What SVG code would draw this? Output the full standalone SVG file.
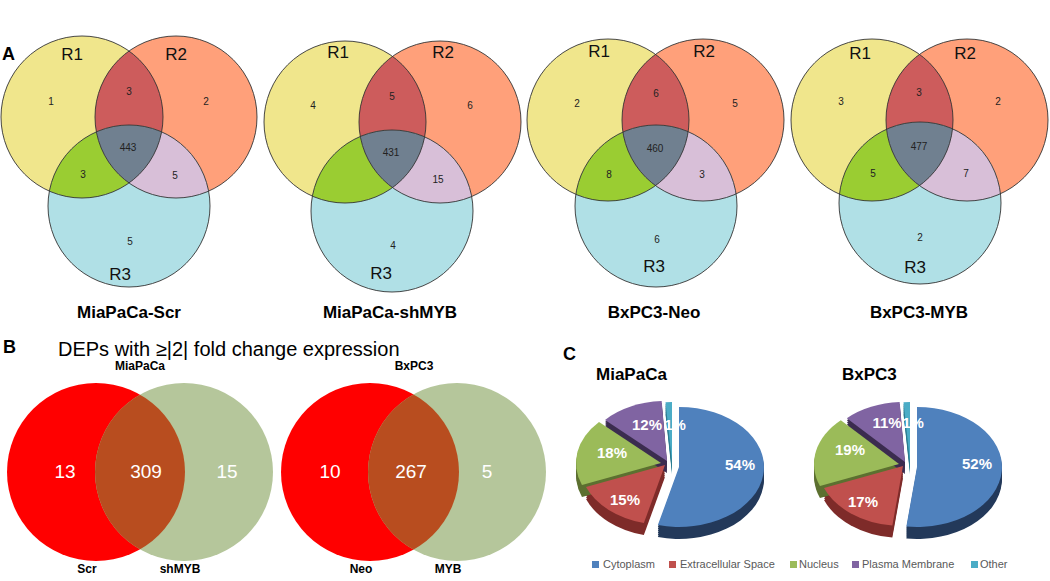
<svg xmlns="http://www.w3.org/2000/svg" xmlns:xlink="http://www.w3.org/1999/xlink" width="1050" height="581" viewBox="0 0 1050 581">
<style>
.lbl{font-family:"Liberation Sans",Arial,sans-serif;font-weight:bold;fill:#000}
.rl{font-family:"Liberation Sans",Arial,sans-serif;font-size:17px;fill:#111;text-anchor:middle}
.num{font-family:"Liberation Sans",Arial,sans-serif;font-size:10px;fill:#222;text-anchor:middle}
.ttl{font-family:"Liberation Sans",Arial,sans-serif;font-size:17px;font-weight:bold;fill:#000;text-anchor:middle}
.r1{fill:#F0E68C}.r2{fill:#FFA07A}.r3{fill:#B0E0E6}
.r12{fill:#CD5C5C}.r13{fill:#9ACD32}.r23{fill:#D8BFD8}.r123{fill:#708090}
.ol{fill:none;stroke:#333;stroke-width:0.9}
.bn{font-family:"Liberation Sans",Arial,sans-serif;font-size:19px;fill:#fff;text-anchor:middle}
.bl{font-family:"Liberation Sans",Arial,sans-serif;font-size:12px;font-weight:bold;fill:#000;text-anchor:middle}
.pct{font-family:"Liberation Sans",Arial,sans-serif;font-size:15px;font-weight:bold;fill:#fff;text-anchor:middle}
.lg{font-family:"Liberation Sans",Arial,sans-serif;font-size:11px;fill:#595959}
</style>
<defs>
<clipPath id="c1a"><circle cx="82" cy="117" r="81"/></clipPath>
<clipPath id="c1b"><circle cx="176" cy="117" r="81"/></clipPath>
<clipPath id="c2a"><circle cx="345" cy="122" r="81"/></clipPath>
<clipPath id="c2b"><circle cx="440" cy="122" r="81"/></clipPath>
<clipPath id="c3a"><circle cx="608" cy="120" r="81"/></clipPath>
<clipPath id="c3b"><circle cx="703" cy="120" r="81"/></clipPath>
<clipPath id="c4a"><circle cx="872" cy="120" r="81"/></clipPath>
<clipPath id="c4b"><circle cx="967" cy="120" r="81"/></clipPath>
<clipPath id="cbl"><circle cx="96" cy="472" r="89"/></clipPath>
<clipPath id="cbr"><circle cx="370" cy="472" r="89"/></clipPath>
<path id="p1b" d="M679,467 L679,407 A85,60 0 1 1 657.86,525.12 Z"/>
<path id="p1r" d="M665,465 L643.86,523.12 A85,60 0 0 1 585.97,487.09 Z"/>
<path id="p1g" d="M661,463 L581.97,485.09 A85,60 0 0 1 599.03,421.93 Z"/>
<path id="p1p" d="M667,461 L605.03,419.93 A85,60 0 0 1 661.66,401.12 Z"/>
<path id="p1c" d="M672,462 L665.5,402.2 A85,60 0 0 1 672,402 Z"/>
<path id="p2b" d="M917,467 L917,407 A85,60 0 1 1 906.35,526.53 Z"/>
<path id="p2r" d="M903,466 L892.35,525.53 A85,60 0 0 1 823.97,488.09 Z"/>
<path id="p2g" d="M899,464 L819.97,486.09 A85,60 0 0 1 840.82,420.26 Z"/>
<path id="p2p" d="M905,462 L846.82,418.26 A85,60 0 0 1 899.66,402.12 Z"/>
<path id="p2c" d="M910,462 L903.5,402.2 A85,60 0 0 1 910,402 Z"/>
</defs>
<rect width="1050" height="581" fill="#fff"/>

<text class="lbl" x="2" y="60" font-size="18">A</text>

<g id="venn-miapaca-scr">
<circle class="r1" cx="82" cy="117" r="81"/>
<circle class="r2" cx="176" cy="117" r="81"/>
<circle class="r3" cx="129" cy="206" r="81"/>
<circle class="r12" cx="176" cy="117" r="81" clip-path="url(#c1a)"/>
<circle class="r13" cx="129" cy="206" r="81" clip-path="url(#c1a)"/>
<circle class="r23" cx="129" cy="206" r="81" clip-path="url(#c1b)"/>
<g clip-path="url(#c1a)"><circle class="r123" cx="129" cy="206" r="81" clip-path="url(#c1b)"/></g>
<circle class="ol" cx="82" cy="117" r="81"/>
<circle class="ol" cx="176" cy="117" r="81"/>
<circle class="ol" cx="129" cy="206" r="81"/>
<text class="rl" x="72" y="60">R1</text>
<text class="rl" x="176" y="60">R2</text>
<text class="rl" x="120" y="280">R3</text>
<text class="num" x="51" y="105">1</text>
<text class="num" x="129" y="95">3</text>
<text class="num" x="206" y="105">2</text>
<text class="num" x="128" y="151">443</text>
<text class="num" x="83" y="178">3</text>
<text class="num" x="175" y="179">5</text>
<text class="num" x="130" y="245">5</text>
<text class="ttl" x="129" y="318">MiaPaCa-Scr</text>
</g>

<g id="venn-miapaca-shmyb">
<circle class="r1" cx="345" cy="122" r="81"/>
<circle class="r2" cx="440" cy="122" r="81"/>
<circle class="r3" cx="392" cy="211" r="81"/>
<circle class="r12" cx="440" cy="122" r="81" clip-path="url(#c2a)"/>
<circle class="r13" cx="392" cy="211" r="81" clip-path="url(#c2a)"/>
<circle class="r23" cx="392" cy="211" r="81" clip-path="url(#c2b)"/>
<g clip-path="url(#c2a)"><circle class="r123" cx="392" cy="211" r="81" clip-path="url(#c2b)"/></g>
<circle class="ol" cx="345" cy="122" r="81"/>
<circle class="ol" cx="440" cy="122" r="81"/>
<circle class="ol" cx="392" cy="211" r="81"/>
<text class="rl" x="338" y="58">R1</text>
<text class="rl" x="443" y="58">R2</text>
<text class="rl" x="381" y="279">R3</text>
<text class="num" x="313" y="109">4</text>
<text class="num" x="392" y="100">5</text>
<text class="num" x="470" y="109">6</text>
<text class="num" x="391" y="156">431</text>
<text class="num" x="438" y="183">15</text>
<text class="num" x="393" y="249">4</text>
<text class="ttl" x="390" y="318">MiaPaCa-shMYB</text>
</g>

<g id="venn-bxpc3-neo">
<circle class="r1" cx="608" cy="120" r="81"/>
<circle class="r2" cx="703" cy="120" r="81"/>
<circle class="r3" cx="656" cy="206" r="81"/>
<circle class="r12" cx="703" cy="120" r="81" clip-path="url(#c3a)"/>
<circle class="r13" cx="656" cy="206" r="81" clip-path="url(#c3a)"/>
<circle class="r23" cx="656" cy="206" r="81" clip-path="url(#c3b)"/>
<g clip-path="url(#c3a)"><circle class="r123" cx="656" cy="206" r="81" clip-path="url(#c3b)"/></g>
<circle class="ol" cx="608" cy="120" r="81"/>
<circle class="ol" cx="703" cy="120" r="81"/>
<circle class="ol" cx="656" cy="206" r="81"/>
<text class="rl" x="599" y="57">R1</text>
<text class="rl" x="704" y="57">R2</text>
<text class="rl" x="654" y="272">R3</text>
<text class="num" x="577" y="107">2</text>
<text class="num" x="656" y="97">6</text>
<text class="num" x="735" y="107">5</text>
<text class="num" x="655" y="152">460</text>
<text class="num" x="609" y="178">8</text>
<text class="num" x="702" y="178">3</text>
<text class="num" x="657" y="243">6</text>
<text class="ttl" x="654" y="318">BxPC3-Neo</text>
</g>

<g id="venn-bxpc3-myb">
<circle class="r1" cx="872" cy="120" r="81"/>
<circle class="r2" cx="967" cy="120" r="81"/>
<circle class="r3" cx="920" cy="203" r="81"/>
<circle class="r12" cx="967" cy="120" r="81" clip-path="url(#c4a)"/>
<circle class="r13" cx="920" cy="203" r="81" clip-path="url(#c4a)"/>
<circle class="r23" cx="920" cy="203" r="81" clip-path="url(#c4b)"/>
<g clip-path="url(#c4a)"><circle class="r123" cx="920" cy="203" r="81" clip-path="url(#c4b)"/></g>
<circle class="ol" cx="872" cy="120" r="81"/>
<circle class="ol" cx="967" cy="120" r="81"/>
<circle class="ol" cx="920" cy="203" r="81"/>
<text class="rl" x="860" y="59">R1</text>
<text class="rl" x="965" y="59">R2</text>
<text class="rl" x="915" y="273">R3</text>
<text class="num" x="841" y="105">3</text>
<text class="num" x="919" y="96">3</text>
<text class="num" x="998" y="105">2</text>
<text class="num" x="919" y="150">477</text>
<text class="num" x="873" y="177">5</text>
<text class="num" x="966" y="177">7</text>
<text class="num" x="920" y="241">2</text>
<text class="ttl" x="919" y="318">BxPC3-MYB</text>
</g>

<text class="lbl" x="3" y="353" font-size="18">B</text>
<text x="58" y="356" font-family="Liberation Sans, Arial, sans-serif" font-size="20" fill="#000">DEPs with ≥|2| fold change expression</text>

<g id="venn-b-miapaca">
<circle cx="96" cy="472" r="89" fill="#FF0000"/>
<circle cx="184" cy="472" r="89" fill="#B5C69B"/>
<circle cx="184" cy="472" r="89" fill="#B84D1F" clip-path="url(#cbl)"/>
<text class="bl" x="140" y="370">MiaPaCa</text>
<text class="bn" x="65" y="478">13</text>
<text class="bn" x="146" y="478">309</text>
<text class="bn" x="227" y="478">15</text>
<text class="bl" x="87" y="573">Scr</text>
<text class="bl" x="180" y="573">shMYB</text>
</g>

<g id="venn-b-bxpc3">
<circle cx="370" cy="472" r="89" fill="#FF0000"/>
<circle cx="457" cy="472" r="89" fill="#B5C69B"/>
<circle cx="457" cy="472" r="89" fill="#B84D1F" clip-path="url(#cbr)"/>
<text class="bl" x="414" y="370">BxPC3</text>
<text class="bn" x="330" y="478">10</text>
<text class="bn" x="411" y="478">267</text>
<text class="bn" x="487" y="478">5</text>
<text class="bl" x="361" y="573">Neo</text>
<text class="bl" x="448" y="573">MYB</text>
</g>

<text class="lbl" x="563" y="360" font-size="18">C</text>
<text class="lbl" x="596" y="380" font-size="17">MiaPaCa</text>
<text class="lbl" x="842" y="380" font-size="17">BxPC3</text>

<g id="pie-miapaca">
<g fill="#23395A">
<use xlink:href="#p1b" y="2"/><use xlink:href="#p1b" y="4"/><use xlink:href="#p1b" y="6"/><use xlink:href="#p1b" y="8"/><use xlink:href="#p1b" y="10"/><use xlink:href="#p1b" y="12"/>
</g>
<g fill="#7E2B29">
<use xlink:href="#p1r" y="2"/><use xlink:href="#p1r" y="4"/><use xlink:href="#p1r" y="6"/><use xlink:href="#p1r" y="8"/><use xlink:href="#p1r" y="10"/><use xlink:href="#p1r" y="12"/>
</g>
<g fill="#5C7030">
<use xlink:href="#p1g" y="2"/><use xlink:href="#p1g" y="4"/><use xlink:href="#p1g" y="6"/><use xlink:href="#p1g" y="8"/><use xlink:href="#p1g" y="10"/><use xlink:href="#p1g" y="12"/>
</g>
<g fill="#3B2C4F">
<use xlink:href="#p1p" y="2"/><use xlink:href="#p1p" y="4"/><use xlink:href="#p1p" y="6"/><use xlink:href="#p1p" y="8"/><use xlink:href="#p1p" y="10"/><use xlink:href="#p1p" y="12"/>
</g>
<g fill="#2B7C90">
<use xlink:href="#p1c" y="2"/><use xlink:href="#p1c" y="4"/><use xlink:href="#p1c" y="6"/><use xlink:href="#p1c" y="8"/><use xlink:href="#p1c" y="10"/><use xlink:href="#p1c" y="12"/>
</g>
<use xlink:href="#p1b" fill="#4F81BD"/>
<use xlink:href="#p1r" fill="#C0504D"/>
<use xlink:href="#p1g" fill="#9BBB59"/>
<use xlink:href="#p1p" fill="#8064A2"/>
<use xlink:href="#p1c" fill="#4BACC6"/>
<text class="pct" x="740" y="470">54%</text>
<text class="pct" x="625" y="505">15%</text>
<text class="pct" x="612" y="458">18%</text>
<text class="pct" x="647" y="430">12%</text>
<text class="pct" x="675" y="430">1%</text>
</g>

<g id="pie-bxpc3">
<g fill="#23395A">
<use xlink:href="#p2b" y="2"/><use xlink:href="#p2b" y="4"/><use xlink:href="#p2b" y="6"/><use xlink:href="#p2b" y="8"/><use xlink:href="#p2b" y="10"/><use xlink:href="#p2b" y="12"/>
</g>
<g fill="#7E2B29">
<use xlink:href="#p2r" y="2"/><use xlink:href="#p2r" y="4"/><use xlink:href="#p2r" y="6"/><use xlink:href="#p2r" y="8"/><use xlink:href="#p2r" y="10"/><use xlink:href="#p2r" y="12"/>
</g>
<g fill="#5C7030">
<use xlink:href="#p2g" y="2"/><use xlink:href="#p2g" y="4"/><use xlink:href="#p2g" y="6"/><use xlink:href="#p2g" y="8"/><use xlink:href="#p2g" y="10"/><use xlink:href="#p2g" y="12"/>
</g>
<g fill="#3B2C4F">
<use xlink:href="#p2p" y="2"/><use xlink:href="#p2p" y="4"/><use xlink:href="#p2p" y="6"/><use xlink:href="#p2p" y="8"/><use xlink:href="#p2p" y="10"/><use xlink:href="#p2p" y="12"/>
</g>
<g fill="#2B7C90">
<use xlink:href="#p2c" y="2"/><use xlink:href="#p2c" y="4"/><use xlink:href="#p2c" y="6"/><use xlink:href="#p2c" y="8"/><use xlink:href="#p2c" y="10"/><use xlink:href="#p2c" y="12"/>
</g>
<use xlink:href="#p2b" fill="#4F81BD"/>
<use xlink:href="#p2r" fill="#C0504D"/>
<use xlink:href="#p2g" fill="#9BBB59"/>
<use xlink:href="#p2p" fill="#8064A2"/>
<use xlink:href="#p2c" fill="#4BACC6"/>
<text class="pct" x="977" y="469">52%</text>
<text class="pct" x="863" y="507">17%</text>
<text class="pct" x="850" y="455">19%</text>
<text class="pct" x="887" y="428">11%</text>
<text class="pct" x="913" y="428">1%</text>
</g>

<g id="legend">
<rect x="592" y="561" width="7" height="7" fill="#4F81BD"/>
<text class="lg" x="603" y="568">Cytoplasm</text>
<rect x="669" y="561" width="7" height="7" fill="#C0504D"/>
<text class="lg" x="680" y="568">Extracellular Space</text>
<rect x="790" y="561" width="7" height="7" fill="#9BBB59"/>
<text class="lg" x="799" y="568">Nucleus</text>
<rect x="852" y="561" width="7" height="7" fill="#8064A2"/>
<text class="lg" x="862" y="568">Plasma Membrane</text>
<rect x="971" y="561" width="7" height="7" fill="#4BACC6"/>
<text class="lg" x="980" y="568">Other</text>
</g>
</svg>
